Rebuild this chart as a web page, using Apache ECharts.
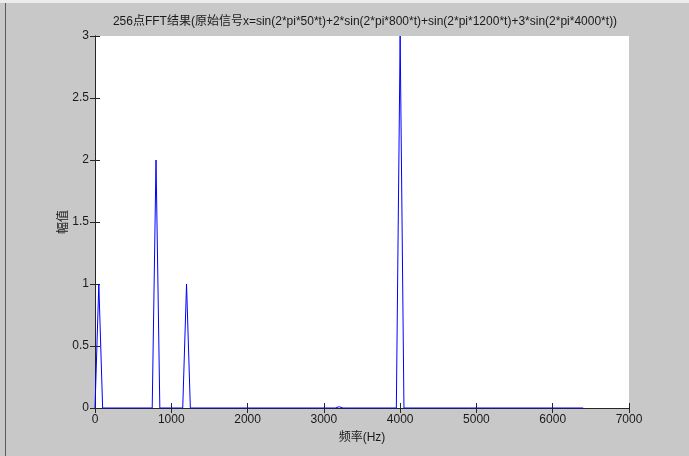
<!DOCTYPE html>
<html>
<head>
<meta charset="utf-8">
<script src="https://cdn.jsdelivr.net/npm/echarts@6/dist/echarts.min.js"></script>
<style>
  html, body { margin: 0; padding: 0; background: #c8c8c8; }
  #fftChart { width: 689px; height: 456px; }
</style>
</head>
<body>
<div id="fftChart"></div>
<script>
  // 频率点 (Hz) 与 幅值，只列出折线拐点
  var freqs = [0, 50, 100, 750, 800, 850, 1150, 1200, 1250, 3150, 3200, 3250, 3950, 4000, 4050, 6400];
  var amps  = [0, 1,  0,   0,   2,   0,   0,    1,    0,    0,    0.01, 0,    0,    3,    0,    0];
  var xTicks = [0, 1000, 2000, 3000, 4000, 5000, 6000, 7000];
  var yTicks = [0, 0.5, 1, 1.5, 2, 2.5, 3];

  var font = '"Liberation Sans", Arial, "Noto Sans CJK SC", sans-serif';
  var chart = echarts.init(document.getElementById('fftChart'));

  var points = freqs.map(function (f, i) { return [f, amps[i]]; });

  var axisLine = { show: true, lineStyle: { color: '#262626', width: 1 } };
  var tick = { show: true, inside: true, length: 5, lineStyle: { color: '#262626' } };

  var option = {
    backgroundColor: '#c8c8c8',
    animation: false,
    title: {
      text: '256点FFT结果(原始信号x=sin(2*pi*50*t)+2*sin(2*pi*800*t)+sin(2*pi*1200*t)+3*sin(2*pi*4000*t))',
      left: 360,
      textAlign: 'center',
      top: 11,
      textStyle: { fontSize: 12, fontWeight: 'normal', color: '#1a1a1a', fontFamily: font }
    },
    grid: { left: 95, top: 36, width: 534, height: 372, show: true, backgroundColor: '#fff', borderWidth: 0 },
    xAxis: [{
      type: 'value',
      min: 0, max: 7000, interval: 1000,
      name: '频率(Hz)',
      nameLocation: 'middle',
      nameGap: 24,
      nameMoveOverlap: false,
      nameTextStyle: { fontSize: 12, color: '#1a1a1a', fontFamily: font },
      axisLine: axisLine,
      axisTick: tick,
      splitLine: { show: false },
      axisLabel: { fontSize: 12, color: '#1a1a1a', fontFamily: font, margin: 6,
        formatter: function (v) { return xTicks.indexOf(v) >= 0 ? String(v) : ''; } }
    }, {
      type: 'value', position: 'top',
      min: 0, max: 7000, interval: 1000,
      axisLine: axisLine, axisTick: tick,
      axisLabel: { show: false }, splitLine: { show: false }
    }],
    yAxis: [{
      type: 'value',
      min: 0, max: 3, interval: 0.5,
      name: '幅值',
      nameLocation: 'middle',
      nameGap: 25,
      nameMoveOverlap: false,
      nameTextStyle: { fontSize: 12, color: '#1a1a1a', fontFamily: font },
      axisLine: axisLine,
      axisTick: tick,
      splitLine: { show: false },
      axisLabel: { fontSize: 12, color: '#1a1a1a', fontFamily: font, margin: 6,
        formatter: function (v) { return yTicks.indexOf(v) >= 0 ? String(v) : ''; } }
    }, {
      type: 'value', position: 'right',
      min: 0, max: 3, interval: 0.5,
      axisLine: axisLine, axisTick: tick,
      axisLabel: { show: false }, splitLine: { show: false }
    }],
    graphic: [
      { type: 'rect', left: 0, top: 0, shape: { width: 689, height: 3 }, style: { fill: '#ececec' }, silent: true },
      { type: 'line', shape: { x1: 5.5, y1: 3, x2: 5.5, y2: 456 }, style: { stroke: '#5a5a5a', lineWidth: 1 }, silent: true }
    ],
    series: [{
      type: 'line',
      data: points,
      showSymbol: false,
      symbol: 'none',
      clip: true,
      lineStyle: { color: '#0000ff', width: 1 },
      itemStyle: { color: '#0000ff' }
    }]
  };

  chart.setOption(option);
</script>
</body>
</html>
